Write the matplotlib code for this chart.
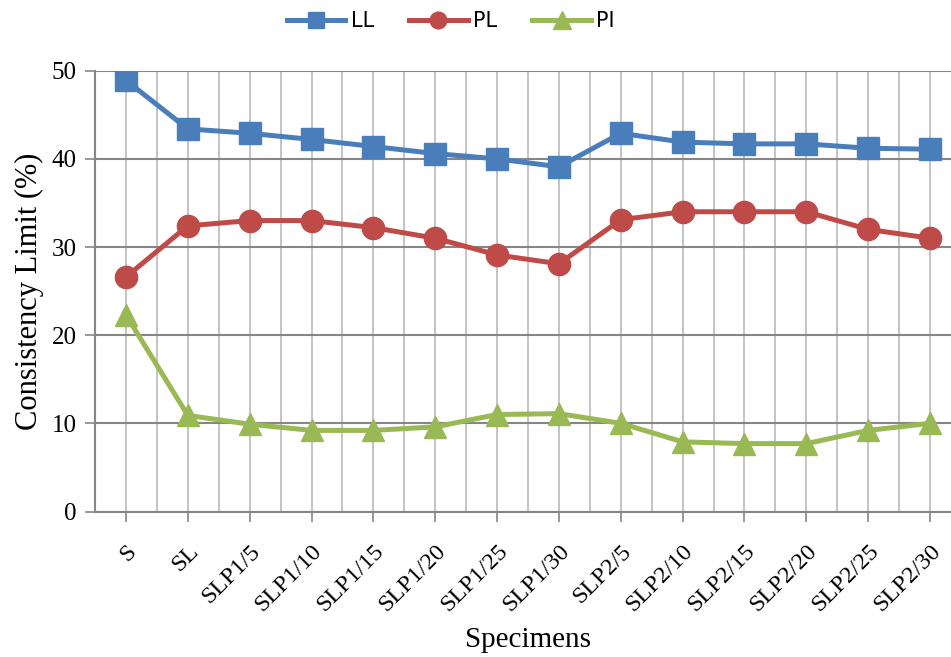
import matplotlib.pyplot as plt
import numpy as np

# Consistency limits of each specimen
specimens = ['S', 'SL', 'SLP1/5', 'SLP1/10', 'SLP1/15', 'SLP1/20', 'SLP1/25',
             'SLP1/30', 'SLP2/5', 'SLP2/10', 'SLP2/15', 'SLP2/20', 'SLP2/25', 'SLP2/30']
ll = [48.9, 43.4, 42.9, 42.2, 41.4, 40.6, 40.0, 39.1, 42.9, 41.9, 41.7, 41.7, 41.2, 41.1]
pl = [26.6, 32.4, 33.0, 33.0, 32.2, 31.0, 29.1, 28.1, 33.1, 34.0, 34.0, 34.0, 32.0, 31.0]
pi = [22.3, 10.9, 9.9, 9.2, 9.2, 9.6, 11.0, 11.1, 10.0, 7.9, 7.7, 7.7, 9.2, 10.0]

plt.rcParams['font.family'] = ['Liberation Serif', 'DejaVu Serif']

fig = plt.figure(figsize=(9.51, 6.57), dpi=100)
ax = fig.add_axes([95 / 951, 145.5 / 657, 866 / 951, 440.8 / 657])

x = np.arange(len(specimens))
ax.plot(x, ll, '-s', color='#4A7EBB', lw=3.6, ms=15.5, label='LL', zorder=5)
ax.plot(x, pl, '-o', color='#BE4B48', lw=3.6, ms=16, label='PL', zorder=5)
ax.plot(x, pi, '-^', color='#98B954', lw=3.6, ms=16.5, label='PI', zorder=5)

ax.set_xlim(-0.5, len(specimens) - 0.5)
ax.set_ylim(0, 50)
ax.set_yticks(range(0, 51, 10))
ax.set_xticks(x)
ax.set_xticks(x[:-1] + 0.5, minor=True)
ax.set_xticklabels(specimens, rotation=45, ha='right', rotation_mode='anchor', fontsize=17.5)
ax.tick_params(axis='y', labelsize=18, length=7, width=1.2, color='#868686', pad=6)
ax.tick_params(axis='x', which='major', length=7, width=1.2, color='#868686', pad=14)
ax.tick_params(axis='x', which='minor', length=0)

# grid: vertical lines at each category and between them, horizontal at the ticks
ax.grid(axis='x', which='both', color='#BFBFBF', lw=1.3, zorder=0)
ax.grid(axis='y', which='major', color='#868686', lw=1.5, zorder=0)
ax.set_axisbelow(True)
for side in ['top', 'right']:
    ax.spines[side].set_visible(False)
for side in ['left', 'bottom']:
    ax.spines[side].set_color('#868686')
    ax.spines[side].set_linewidth(1.5)

ax.set_xlabel('Specimens', fontsize=21)
ax.xaxis.set_label_coords(0.5, -0.262)
ax.set_ylabel('Consistency Limit (%)', fontsize=22, labelpad=6)

fig.legend(loc='center', bbox_to_anchor=(0.474, 1 - 21 / 657), ncol=3, frameon=False,
           prop={'family': ['Liberation Sans Narrow', 'DejaVu Sans'], 'size': 15},
           handlelength=2.8, markerscale=0.75, columnspacing=1.7, handletextpad=0.25)

fig.savefig('out.png', dpi=100)
